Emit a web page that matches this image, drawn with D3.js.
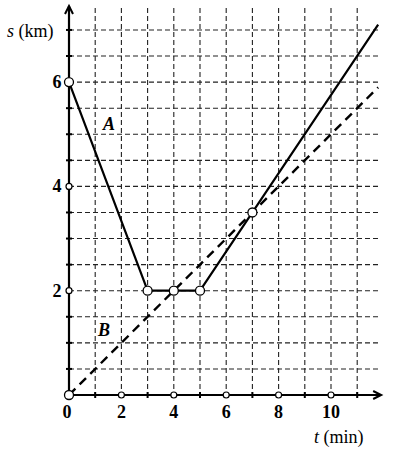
<!DOCTYPE html>
<html><head><meta charset="utf-8">
<script src="https://cdn.jsdelivr.net/npm/d3@7"></script>
<style>body{margin:0;background:#fff}svg{display:block}
svg text{font-family:"Liberation Serif",serif !important;}
</style>
</head><body>
<svg id="c" width="410" height="458"></svg>
<script>
// data
const xTicks = [0, 2, 4, 6, 8, 10];
const yTicks = [2, 4, 6];
const xGrid = [1,2,3,4,5,6,7,8,9,10,11];
const yGrid = [0.5,1,1.5,2,2.5,3,3.5,4,4.5,5,5.5,6,6.5,7];
const lineA = [[0,6],[3,2],[5,2],[7,3.5],[11.8,7.1]];
const lineB = [[0,0],[11.8,5.9]];
const markedPoints = [[0,6],[3,2],[4,2],[5,2],[7,3.5],[0,0]];

const svg = d3.select("#c");
const x = d3.scaleLinear().domain([0, 12]).range([69, 69 + 26.2*12]);
const y = d3.scaleLinear().domain([0, 7]).range([395, 395 - 52.15*7]);
const xEnd = x(11.8), yTop = 6;

// grid
svg.append("g").selectAll("line").data(xGrid).join("line")
  .attr("x1", d=>x(d)).attr("x2", d=>x(d)).attr("y1", yTop+2).attr("y2", y(0))
  .attr("stroke", "#222").attr("stroke-width", 1.1).attr("stroke-dasharray", "5,3");
svg.append("g").selectAll("line").data(yGrid).join("line")
  .attr("x1", x(0)).attr("x2", xEnd).attr("y1", d=>y(d)).attr("y2", d=>y(d))
  .attr("stroke", "#222").attr("stroke-width", 1.1).attr("stroke-dasharray", "5,3");

// axes
svg.append("line").attr("x1", x(0)).attr("x2", x(0)).attr("y1", y(0)).attr("y2", yTop)
  .attr("stroke","#000").attr("stroke-width",2.2);
svg.append("line").attr("x1", x(0)).attr("x2", xEnd+2).attr("y1", y(0)).attr("y2", y(0))
  .attr("stroke","#000").attr("stroke-width",2.2);
svg.append("path").attr("d", `M${x(0)-4},${yTop+8} L${x(0)},${yTop} L${x(0)+4},${yTop+8}`)
  .attr("fill","none").attr("stroke","#000").attr("stroke-width",2);
svg.append("path").attr("d", `M${xEnd-5},${y(0)-4} L${xEnd+3},${y(0)} L${xEnd-5},${y(0)+4}`)
  .attr("fill","none").attr("stroke","#000").attr("stroke-width",2);

// small tick marks on axes
svg.append("g").selectAll("line").data(xGrid.filter(d=>d%2===1)).join("line")
  .attr("x1", d=>x(d)).attr("x2", d=>x(d)).attr("y1", y(0)-3).attr("y2", y(0)+3)
  .attr("stroke","#000").attr("stroke-width",2);
svg.append("g").selectAll("line").data(yGrid.filter(d=>d%2!==0)).join("line")
  .attr("x1", x(0)-3).attr("x2", x(0)+3).attr("y1", d=>y(d)).attr("y2", d=>y(d))
  .attr("stroke","#000").attr("stroke-width",2);

// lines
const line = d3.line().x(d=>x(d[0])).y(d=>y(d[1]));
svg.append("path").attr("d", line(lineB)).attr("fill","none")
  .attr("stroke","#000").attr("stroke-width",2.4).attr("stroke-dasharray","9,6");
svg.append("path").attr("d", line(lineA)).attr("fill","none")
  .attr("stroke","#000").attr("stroke-width",2.2).attr("stroke-linejoin","round");

// small axis circles
svg.append("g").selectAll("circle").data(xTicks.filter(d=>d>0)).join("circle")
  .attr("cx", d=>x(d)).attr("cy", y(0)).attr("r", 3)
  .attr("fill","#fff").attr("stroke","#000").attr("stroke-width",1.2);
svg.append("g").selectAll("circle").data(yTicks.filter(d=>d<6)).join("circle")
  .attr("cx", x(0)).attr("cy", d=>y(d)).attr("r", 3)
  .attr("fill","#fff").attr("stroke","#000").attr("stroke-width",1.2);
// marked points
svg.append("g").selectAll("circle").data(markedPoints).join("circle")
  .attr("cx", d=>x(d[0])).attr("cy", d=>y(d[1])).attr("r", 4.5)
  .attr("fill","#fff").attr("stroke","#000").attr("stroke-width",1.3);

// text helper
function txt(sel, size, weight, style) {
  return sel.style("font-family", "Liberation Serif", "important")
    .style("font-size", size + "px", "important")
    .style("font-weight", weight, "important")
    .style("font-style", style, "important");
}

// tick labels
txt(svg.append("g").selectAll("text").data(xTicks).join("text")
  .attr("x", d=> d===0 ? x(d)-2 : x(d)).attr("y", 418)
  .attr("text-anchor","middle"), 18, "bold", "normal")
  .text(d=>d);
txt(svg.append("g").selectAll("text").data(yTicks).join("text")
  .attr("x", 57).attr("y", d=>y(d)+6)
  .attr("text-anchor","middle"), 18, "bold", "normal")
  .text(d=>d);

// axis titles
const st = txt(svg.append("text").attr("x", 7).attr("y", 37), 18, "normal", "normal");
txt(st.append("tspan"), 18, "normal", "italic").text("s");
txt(st.append("tspan"), 18, "normal", "normal").text(" (km)");
const tt = txt(svg.append("text").attr("x", 314).attr("y", 443), 18, "normal", "normal");
txt(tt.append("tspan"), 18, "normal", "italic").text("t");
txt(tt.append("tspan"), 18, "normal", "normal").text(" (min)");

// series labels
txt(svg.append("text").attr("x", 103).attr("y", 130), 18, "bold", "italic").text("A");
txt(svg.append("text").attr("x", 98).attr("y", 336), 18, "bold", "italic").text("B");
</script>
</body></html>
